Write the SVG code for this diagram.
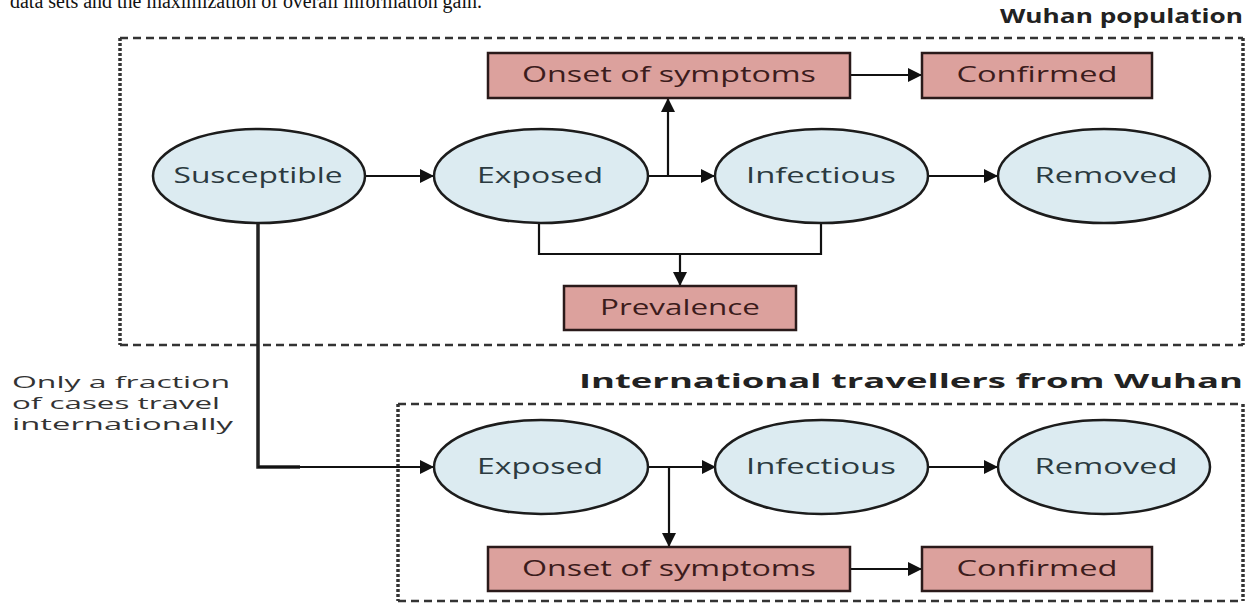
<svg xmlns="http://www.w3.org/2000/svg" width="1254" height="607" viewBox="0 0 1254 607">
<defs>
<marker id="ah" viewBox="0 0 10 10" refX="10" refY="5" markerUnits="userSpaceOnUse" markerWidth="18" markerHeight="14" orient="auto">
<path d="M0,0 L10,5 L0,10 z" fill="#111"/>
</marker>
<style>
.ell{fill:#dcebf1;stroke:#1c1c1c;stroke-width:2.5}
.box{fill:#dca19d;stroke:#2a1a1a;stroke-width:2.5}
.et{font-family:"Open Sans","Noto Sans",sans-serif;font-size:21px;fill:#2b3a40;text-anchor:middle}
.bt{font-family:"Open Sans","Noto Sans",sans-serif;font-size:21px;fill:#3c1c1c;text-anchor:middle}
.title{font-family:"Open Sans","Noto Sans",sans-serif;font-size:20px;font-weight:bold;fill:#222;text-anchor:end}
.note{font-family:"Open Sans","Noto Sans",sans-serif;font-size:17px;fill:#333}
.hd{fill:none;stroke:#333;stroke-width:2.5;stroke-dasharray:8 5}
.vd{fill:none;stroke:#333;stroke-width:3.5;stroke-dasharray:3 2}
.c{fill:none;stroke:#111;stroke-width:2.2}
.ca{fill:none;stroke:#111;stroke-width:2.2;marker-end:url(#ah)}
.thick{fill:none;stroke:#222;stroke-width:3.5}
</style>
</defs>
<rect width="1254" height="607" fill="#fff"/>
<text x="10" y="8" font-family="Liberation Serif, serif" font-size="20" fill="#111" textLength="472" lengthAdjust="spacingAndGlyphs">data sets and the maximization of overall information gain.</text>

<g id="wuhan-frame">
<line class="hd" x1="120" y1="38" x2="1243" y2="38"/>
<line class="hd" x1="120" y1="345" x2="1243" y2="345"/>
<line class="vd" x1="120" y1="38" x2="120" y2="345"/>
<line class="vd" x1="1243" y1="38" x2="1243" y2="345"/>
<text class="title" x="1243" y="23" textLength="243" lengthAdjust="spacingAndGlyphs">Wuhan population</text>
</g>
<g id="travel-frame">
<line class="hd" x1="398" y1="404" x2="1243" y2="404"/>
<line class="hd" x1="398" y1="601" x2="1243" y2="601"/>
<line class="vd" x1="398" y1="404" x2="398" y2="601"/>
<line class="vd" x1="1243" y1="404" x2="1243" y2="601"/>
<text class="title" x="1243" y="388" textLength="664" lengthAdjust="spacingAndGlyphs">International travellers from Wuhan</text>
</g>

<g id="connectors">
<line class="ca" x1="365" y1="176" x2="434" y2="176"/>
<line class="ca" x1="648" y1="176" x2="715" y2="176"/>
<line class="ca" x1="668" y1="176" x2="668" y2="98"/>
<line class="ca" x1="928" y1="176" x2="998" y2="176"/>
<line class="ca" x1="850" y1="75" x2="922" y2="75"/>
<polyline class="c" points="539,222 539,254 821,254 821,222"/>
<line class="ca" x1="680" y1="254" x2="680" y2="286"/>
<polyline class="thick" points="258,223 258,467 300,467"/>
<line class="ca" x1="258" y1="467" x2="434" y2="467"/>
<line class="ca" x1="648" y1="467" x2="716" y2="467"/>
<line class="ca" x1="669" y1="467" x2="669" y2="547"/>
<line class="ca" x1="928" y1="467" x2="998" y2="467"/>
<line class="ca" x1="850" y1="569" x2="922" y2="569"/>
</g>

<g id="susceptible"><ellipse class="ell" cx="259" cy="176" rx="106" ry="47"/><text class="et" x="258" y="183" textLength="169" lengthAdjust="spacingAndGlyphs">Susceptible</text></g>
<g id="exposed"><ellipse class="ell" cx="541" cy="176" rx="107" ry="47"/><text class="et" x="540" y="183" textLength="126" lengthAdjust="spacingAndGlyphs">Exposed</text></g>
<g id="infectious"><ellipse class="ell" cx="821.5" cy="176" rx="106.5" ry="47"/><text class="et" x="821" y="183" textLength="150" lengthAdjust="spacingAndGlyphs">Infectious</text></g>
<g id="removed"><ellipse class="ell" cx="1104" cy="176" rx="106" ry="47"/><text class="et" x="1106" y="183" textLength="143" lengthAdjust="spacingAndGlyphs">Removed</text></g>
<g id="onset"><rect class="box" x="488" y="53" width="362" height="45"/><text class="bt" x="669" y="82" textLength="294" lengthAdjust="spacingAndGlyphs">Onset of symptoms</text></g>
<g id="confirmed"><rect class="box" x="922" y="53" width="230" height="45"/><text class="bt" x="1037" y="82" textLength="161" lengthAdjust="spacingAndGlyphs">Confirmed</text></g>
<g id="prevalence"><rect class="box" x="564" y="286" width="232" height="44"/><text class="bt" x="680" y="315" textLength="160" lengthAdjust="spacingAndGlyphs">Prevalence</text></g>

<g id="note"><text class="note"><tspan x="12" y="388" textLength="218" lengthAdjust="spacingAndGlyphs">Only a fraction</tspan><tspan x="12" y="409" textLength="208" lengthAdjust="spacingAndGlyphs">of cases travel</tspan><tspan x="12" y="430" textLength="221" lengthAdjust="spacingAndGlyphs">internationally</tspan></text></g>

<g id="exposed-2"><ellipse class="ell" cx="541" cy="467" rx="107" ry="47"/><text class="et" x="540" y="474" textLength="126" lengthAdjust="spacingAndGlyphs">Exposed</text></g>
<g id="infectious-2"><ellipse class="ell" cx="821.5" cy="467" rx="106.5" ry="47"/><text class="et" x="821" y="474" textLength="150" lengthAdjust="spacingAndGlyphs">Infectious</text></g>
<g id="removed-2"><ellipse class="ell" cx="1104" cy="467" rx="106" ry="47"/><text class="et" x="1106" y="474" textLength="143" lengthAdjust="spacingAndGlyphs">Removed</text></g>
<g id="onset-2"><rect class="box" x="488" y="547" width="362" height="44"/><text class="bt" x="669" y="576" textLength="294" lengthAdjust="spacingAndGlyphs">Onset of symptoms</text></g>
<g id="confirmed-2"><rect class="box" x="922" y="547" width="230" height="44"/><text class="bt" x="1037" y="576" textLength="161" lengthAdjust="spacingAndGlyphs">Confirmed</text></g>
</svg>
